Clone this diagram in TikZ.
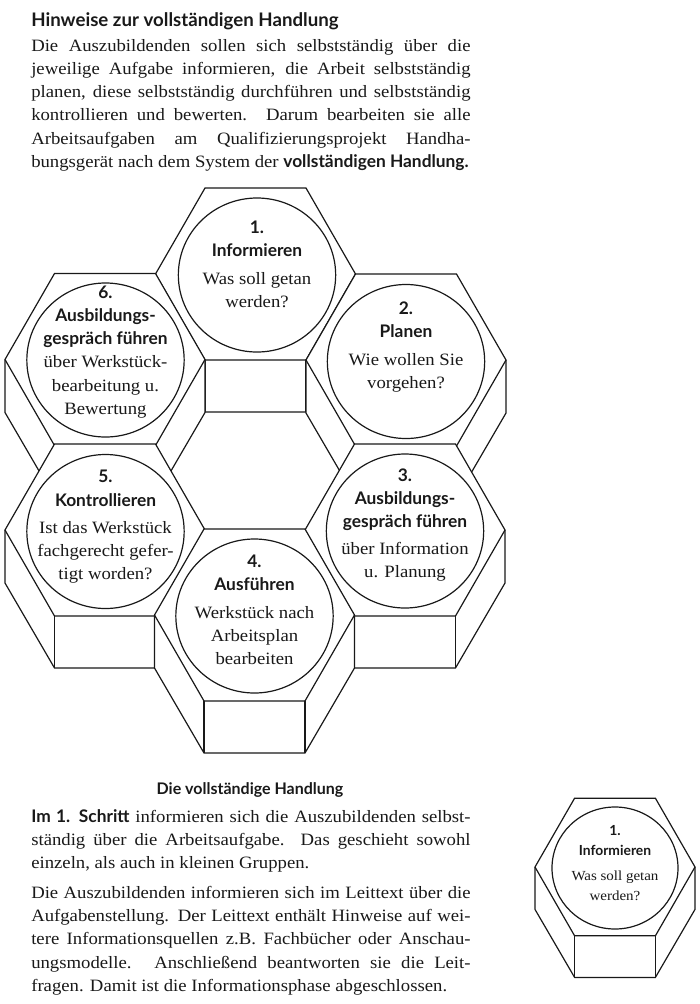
\documentclass[tikz,border=0pt]{standalone}
\usepackage{fontspec}
\setmainfont[FakeStretch=1.08]{Liberation Serif}
\setsansfont{Lato}
\usetikzlibrary{shapes.geometric}
\definecolor{inkc}{RGB}{25,25,25}
\tikzset{
  cellline/.style={draw=inkc, line width=0.9pt, line join=miter},
  disc/.style={shape=ellipse, draw=inkc, line width=0.9pt, fill=white, inner sep=0pt,
               minimum width=118pt, minimum height=115.5pt},
  smalldisc/.style={disc, minimum width=94.5pt, minimum height=91.5pt},
  txt/.style={align=center, text=inkc, inner sep=0pt,
              font=\fontsize{13}{17.3}\selectfont},
  smalltxt/.style={txt, font=\fontsize{10.4}{15}\selectfont},
  para/.style={anchor=north west, align=justify, text width=329.5pt, inner sep=0pt, text=inkc,
               font=\fontsize{13}{17.4}\selectfont},
  head/.style={anchor=base west, inner sep=0pt, text=inkc,
               font=\sffamily\bfseries\fontsize{14}{17}\selectfont},
}
\tikzset{
  % a hexagon standing on its block
  cellicon/.pic={
    \draw[cellline, fill=white] (-100,0) -- (-100,53) -- (-50.5,138) -- (50.5,138) -- (100,53)
      -- (100,0) -- (50.5,-86) -- (-50.5,-86) -- cycle;
    \draw[cellline] (-100,0) -- (-50.5,86) -- (50.5,86) -- (100,0);
    \draw[cellline] (-50.5,86) -- (-50.5,138);
    \draw[cellline] (50.5,86) -- (50.5,138);
  },
}
\newcommand{\hd}[1]{{\sffamily\bfseries #1}}
\newcommand{\el}[3]{\hd{#1}\\\hd{#2}\\[3.5pt]#3}

\begin{document}
\begin{tikzpicture}[x=0.75pt,y=-0.75pt]
  \useasboundingbox (0,0) rectangle (700,1004);

  \node[head] (title) at (31,26) {Hinweise zur vollständigen Handlung};
  \node[para] (intro) at (31,39) {\parfillskip=0pt
    Die Auszubildenden sollen sich selbstständig über die\linebreak
    jeweilige Aufgabe informieren, die Arbeit selbstständig\linebreak
    planen, diese selbstständig durchführen und selbstständig\linebreak
    kontrollieren und bewerten. Darum bearbeiten sie alle\linebreak
    Arbeitsaufgaben am Qualifizierungsprojekt Handha-\linebreak
    bungsgerät nach dem System der \hd{vollständigen Handlung.}};

  % back to front, each cell hides the block of the one above
  \pic at (255.5,274) {cellicon};
  \pic at (105,359.5) {cellicon};
  \pic at (406,360) {cellicon};
  \pic at (105,530) {cellicon};
  \pic at (405,530) {cellicon};
  \pic at (254.5,615) {cellicon};
  \pic[scale=0.8] at (615,867) {cellicon};

  \node[disc] (informieren) at (257,275) {};
  \node[disc] (planen) at (406,361.5) {};
  \node[disc] (gespraech) at (405,531) {};
  \node[disc] (ausfuehren) at (254.5,616) {};
  \node[disc] (kontrolle) at (105.5,531.5) {};
  \node[disc] (bewertung) at (105.5,360) {};
  \node[smalldisc] (kleindisc) at (615,868) {};

  \node[txt] (t1) at (257,264) {\el{1.}{Informieren}{Was soll getan\\werden?}};
  \node[txt] (t2) at (406,347) {\el{2.}{Planen}{Wie wollen Sie\\vorgehen?}};
  \node[txt] (t3) at (405,525) {\hd{3.}\\\el{Ausbildungs-}{gespräch führen}{über Information\\u. Planung}};
  \node[txt] (t4) at (254.5,610) {\el{4.}{Ausführen}{Werkstück nach\\Arbeitsplan\\bearbeiten}};
  \node[txt] (t5) at (105.5,527) {\el{5.}{Kontrollieren}{Ist das Werkstück\\fachgerecht gefer-\\tigt worden?}};
  \node[txt] (t6) at (105.5,352) {\hd{6.}\\\hd{Ausbildungs-}\\\hd{gespräch führen}\\über Werkstück-\\bearbeitung u.\\Bewertung};
  \node[smalltxt] (t7) at (615,863) {\el{1.}{Informieren}{Was soll getan\\werden?}};

  \node[head, anchor=center, font=\sffamily\bfseries\fontsize{12}{15}\selectfont] (caption) at (250,790) {Die vollständige Handlung};
  \node[para] (schritt) at (31,809) {%
    \hd{Im 1. Schritt} informieren sich die Auszubildenden selbst-\linebreak
    ständig über die Arbeitsaufgabe. Das geschieht sowohl\linebreak
    einzeln, als auch in kleinen Gruppen.};
  \node[para] (leittext) at (31,886) {\parfillskip=0pt
    Die Auszubildenden informieren sich im Leittext über die\linebreak
    Aufgabenstellung. Der Leittext enthält Hinweise auf wei-\linebreak
    tere Informationsquellen z.B. Fachbücher oder Anschau-\linebreak
    ungsmodelle. Anschließend beantworten sie die Leit-\linebreak
    fragen. Damit ist die Informationsphase abgeschlossen.};

\end{tikzpicture}
\end{document}
